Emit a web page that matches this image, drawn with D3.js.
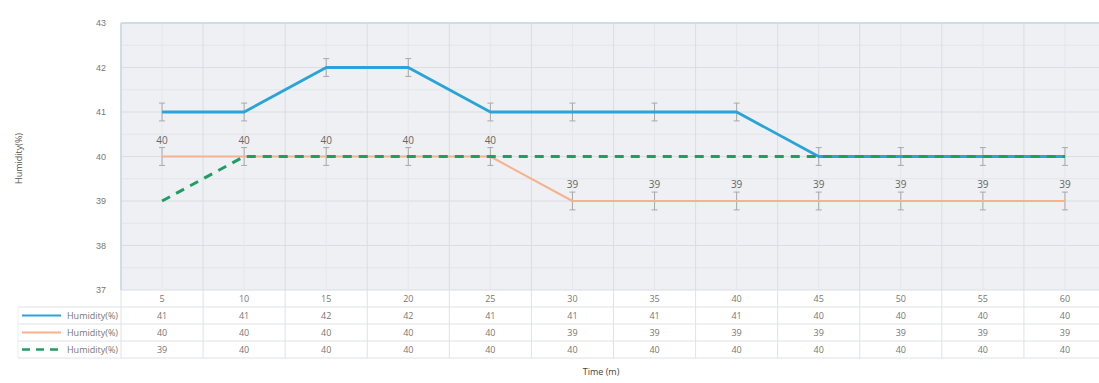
<!DOCTYPE html>
<html>
<head>
<meta charset="utf-8">
<script src="https://cdn.jsdelivr.net/npm/d3@7/dist/d3.min.js"></script>
<style>
  html, body { margin: 0; padding: 0; background: #fff; overflow: hidden; }
  svg { display: block; font-family: "Open Sans", "DejaVu Sans", sans-serif; }
</style>
</head>
<body>
<svg id="chart" width="1099" height="383"></svg>
<script>
const times = ["5", "10", "15", "20", "25", "30", "35", "40", "45", "50", "55", "60"];
const seriesNames = ["Humidity(%)", "Humidity(%)", "Humidity(%)"];
const blueValues = [41, 41, 42, 42, 41, 41, 41, 41, 40, 40, 40, 40];
const orangeValues = [40, 40, 40, 40, 40, 39, 39, 39, 39, 39, 39, 39];
const greenValues = [39, 40, 40, 40, 40, 40, 40, 40, 40, 40, 40, 40];
const errorAmount = 0.2;
const yTicks = [37, 38, 39, 40, 41, 42, 43];

const series = [
  { name: seriesNames[0], values: blueValues, color: "#2aa3d9", width: 2.8, dash: null, labels: false, errors: true },
  { name: seriesNames[1], values: orangeValues, color: "#f5b28e", width: 2, dash: null, labels: true, errors: true },
  { name: seriesNames[2], values: greenValues, color: "#1f9e63", width: 3, dash: "9,7", labels: false, errors: false }
];

const svg = d3.select("#chart");
const L = 121, R = 1106, T = 23, B = 290;
const x = d3.scaleBand().domain(times).range([L, R]);
const y = d3.scaleLinear().domain([37, 43]).range([B, T]);
const cx = t => x(t) + x.bandwidth() / 2;

// plot background
svg.append("rect").attr("x", L).attr("y", T).attr("width", R - L).attr("height", B - T).attr("fill", "#eef0f3");

// minor horizontal grid
const minor = d3.range(37.5, 43, 1);
svg.append("g").selectAll("line").data(minor).join("line")
  .attr("x1", L).attr("x2", R).attr("y1", d => y(d)).attr("y2", d => y(d))
  .attr("stroke", "#e3e6ea").attr("stroke-width", 1);
// major horizontal grid
svg.append("g").selectAll("line").data(yTicks).join("line")
  .attr("x1", L).attr("x2", R).attr("y1", d => y(d)).attr("y2", d => y(d))
  .attr("stroke", "#dadde2").attr("stroke-width", 1);
// vertical grid (category boundaries and minor at centers)
svg.append("g").selectAll("line").data(times).join("line")
  .attr("x1", d => x(d)).attr("x2", d => x(d)).attr("y1", T).attr("y2", B)
  .attr("stroke", "#dadde2");
svg.append("g").selectAll("line").data(times).join("line")
  .attr("x1", d => cx(d)).attr("x2", d => cx(d)).attr("y1", T).attr("y2", B)
  .attr("stroke", "#e4e7eb");

// plot border top/left
svg.append("line").attr("x1", L).attr("x2", R).attr("y1", T).attr("y2", T).attr("stroke", "#c9d7e6").attr("stroke-width", 1.5);
svg.append("line").attr("x1", L).attr("x2", L).attr("y1", T).attr("y2", B).attr("stroke", "#c9d7e6").attr("stroke-width", 1.5);

// y axis
const yAxis = d3.axisLeft(y).tickValues(yTicks).tickSize(0).tickPadding(15).tickFormat(d3.format("d"));
const yg = svg.append("g").attr("transform", `translate(${L},0)`).call(yAxis);
yg.select(".domain").remove();
yg.selectAll("text").attr("fill", "#777").attr("font-size", 9);

svg.append("text").attr("transform", `translate(22,${(T + B) / 2 + 2}) rotate(-90)`)
  .attr("text-anchor", "middle").attr("fill", "#555").attr("font-size", 9).text("Humidity(%)");

// error bars
series.filter(s => s.errors).forEach(s => {
  const g = svg.append("g");
  g.selectAll("line.v").data(times).join("line").attr("class", "v")
    .attr("x1", d => cx(d)).attr("x2", d => cx(d))
    .attr("y1", (d, i) => y(s.values[i] + errorAmount)).attr("y2", (d, i) => y(s.values[i] - errorAmount))
    .attr("stroke", "#a8a8a8").attr("stroke-width", 1);
  [errorAmount, -errorAmount].forEach(e => {
    g.selectAll(null).data(times).join("line")
      .attr("x1", d => cx(d) - 3).attr("x2", d => cx(d) + 3)
      .attr("y1", (d, i) => y(s.values[i] + e)).attr("y2", (d, i) => y(s.values[i] + e))
      .attr("stroke", "#a8a8a8").attr("stroke-width", 1);
  });
});

// lines: draw orange, blue, then green
const line = d3.line().x(d => cx(d.t)).y(d => y(d.v));
[series[1], series[0], series[2]].forEach(s => {
  const pts = times.map((t, i) => ({ t, v: s.values[i] }));
  svg.append("path").datum(pts).attr("d", line).attr("fill", "none")
    .attr("stroke", s.color).attr("stroke-width", s.width)
    .attr("stroke-dasharray", s.dash).attr("stroke-linejoin", "round");
});

// data labels (orange)
series.filter(s => s.labels).forEach(s => {
  svg.append("g").selectAll("text").data(times).join("text")
    .attr("x", d => cx(d)).attr("y", (d, i) => y(s.values[i]) - 13)
    .attr("text-anchor", "middle").attr("fill", "#666").attr("font-size", 10)
    .text((d, i) => s.values[i]);
});

// data table
const rowH = 17;
const tableLeft = 18;
const rows = 4;
const tg = svg.append("g");
for (let r = 1; r <= rows; r++) {
  tg.append("line").attr("x1", tableLeft).attr("x2", R).attr("y1", B + r * rowH).attr("y2", B + r * rowH)
    .attr("stroke", "#dfe2e6");
}
tg.append("line").attr("x1", tableLeft).attr("x2", tableLeft).attr("y1", B + rowH).attr("y2", B + rows * rowH).attr("stroke", "#eceef0");
tg.selectAll("line.col").data(times).join("line").attr("class", "col")
  .attr("x1", d => x(d)).attr("x2", d => x(d)).attr("y1", B).attr("y2", B + rows * rowH)
  .attr("stroke", "#dfe2e6");
tg.selectAll("text.xl").data(times).join("text").attr("class", "xl")
  .attr("x", d => cx(d)).attr("y", B + rowH / 2 + 3.5)
  .attr("text-anchor", "middle").attr("fill", "#777").attr("font-size", 9).text(d => d);
series.forEach((s, si) => {
  const ry = B + (si + 1) * rowH + rowH / 2;
  tg.append("g").selectAll("text").data(times).join("text")
    .attr("x", d => cx(d)).attr("y", ry + 3.5)
    .attr("text-anchor", "middle").attr("fill", "#777").attr("font-size", 9)
    .text((d, i) => s.values[i]);
  tg.append("line").attr("x1", 22).attr("x2", 61).attr("y1", ry).attr("y2", ry)
    .attr("stroke", s.color).attr("stroke-width", s.dash ? 2.5 : 2).attr("stroke-dasharray", s.dash ? "8,6" : null);
  tg.append("text").attr("x", 118).attr("y", ry + 3.5).attr("text-anchor", "end")
    .attr("fill", "#777").attr("font-size", 9).text(s.name);
});

svg.append("text").attr("x", 601).attr("y", 375).attr("text-anchor", "middle")
  .attr("fill", "#444").attr("font-size", 9).text("Time (m)");
</script>
</body>
</html>
